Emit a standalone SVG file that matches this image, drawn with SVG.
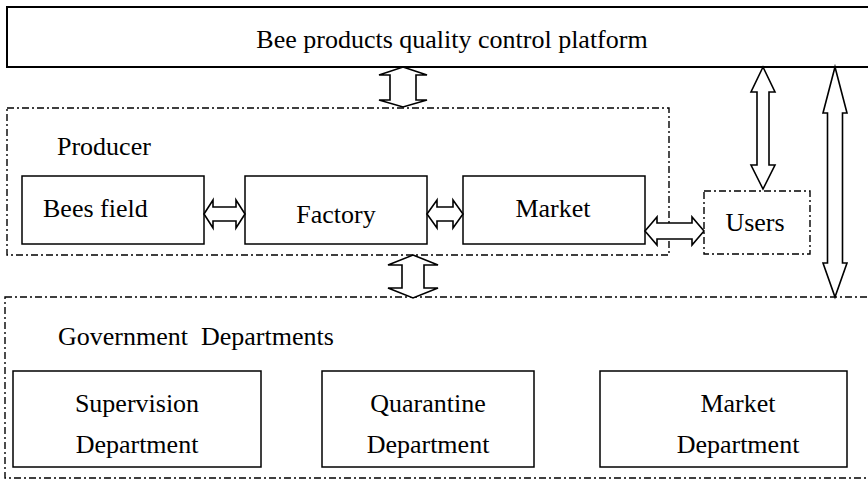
<svg xmlns="http://www.w3.org/2000/svg" width="868" height="489" viewBox="0 0 868 489">
<style>
text{font-family:'Liberation Serif','Times New Roman',serif;font-size:26px;fill:#000}
.c{text-anchor:middle}
.box{fill:#fff;stroke:#000;stroke-width:1.5}
.grp{fill:none;stroke:#000;stroke-width:1.4;stroke-dasharray:7 3 2 3}
.arr{fill:#fff;stroke:#000;stroke-width:1.6;stroke-linejoin:miter}
</style>
<rect width="868" height="489" fill="#fff"/>
<g id="platform">
<rect x="7" y="7" width="900" height="60" fill="#fff" stroke="#000" stroke-width="2"/>
<text class="c" x="452" y="48">Bee products quality control platform</text>
</g>
<g id="producer">
<rect class="grp" x="7" y="108" width="662" height="147"/>
<text x="57" y="155">Producer</text>
</g>
<g id="government">
<rect class="grp" x="5" y="297" width="900" height="181"/>
<text x="58" y="345" xml:space="preserve">Government  Departments</text>
</g>
<g id="bees-field">
<rect class="box" x="22" y="176" width="182" height="68"/>
<text x="43" y="217">Bees field</text>
</g>
<g id="factory">
<rect class="box" x="245" y="176" width="182" height="68"/>
<text class="c" x="336" y="223">Factory</text>
</g>
<g id="market">
<rect class="box" x="463" y="176" width="182" height="68"/>
<text class="c" x="553" y="217">Market</text>
</g>
<g id="users">
<rect class="grp" x="704" y="191" width="106" height="63"/>
<text class="c" x="755" y="231">Users</text>
</g>
<g id="supervision">
<rect class="box" x="13" y="371" width="248" height="96"/>
<text class="c" x="137" y="412">Supervision</text>
<text class="c" x="137" y="453">Department</text>
</g>
<g id="quarantine">
<rect class="box" x="322" y="371" width="212" height="96"/>
<text class="c" x="428" y="412">Quarantine</text>
<text class="c" x="428" y="453">Department</text>
</g>
<g id="market-department">
<rect class="box" x="600" y="371" width="247" height="96"/>
<text class="c" x="738" y="412">Market</text>
<text class="c" x="738" y="453">Department</text>
</g>
<g id="connectors">
<polygon class="arr" points="403,67 427,75 416,75 416,100 427,100 403,107 379,100 390,100 390,75 379,75"/>
<polygon class="arr" points="413,255 438,265 424,265 424,288 438,288 413,298 388,288 402,288 402,265 388,265"/>
<polygon class="arr" points="204,214 213,200 213,207 236,207 236,200 245,214 236,228 236,221 213,221 213,228"/>
<polygon class="arr" points="427,214 437,200 437,207 453,207 453,200 463,214 453,228 453,221 437,221 437,228"/>
<polygon class="arr" points="645,231 657,217 657,223 692,223 692,217 704,231 692,245 692,239 657,239 657,245"/>
<polygon class="arr" points="763,67 775,92 769,92 769,165 775,165 763,189 751,165 757,165 757,92 751,92"/>
<polygon class="arr" points="835,67 847,113 842.5,113 842.5,263 847,263 835,297 823,263 827.5,263 827.5,113 823,113"/>
</g>
</svg>
